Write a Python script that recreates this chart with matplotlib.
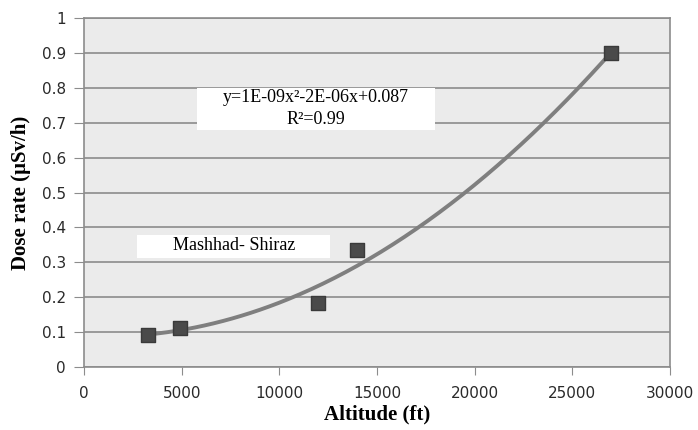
import matplotlib
matplotlib.use("Agg")
import matplotlib.pyplot as plt
from matplotlib.patches import Rectangle
import numpy as np

# valeurs
altitude = [3300, 4900, 12000, 14000, 27000]
dose = [0.093, 0.113, 0.183, 0.335, 0.90]
x_ticks = [0, 5000, 10000, 15000, 20000, 25000, 30000]
y_ticks = [0, 0.1, 0.2, 0.3, 0.4, 0.5, 0.6, 0.7, 0.8, 0.9, 1]

fig = plt.figure(figsize=(6.98, 4.30), dpi=100)
ax = fig.add_axes([0.1203, 0.1465, 0.8396, 0.8116])
ax.set_facecolor("#ebebeb")

# courbe de tendance polynomiale
coef = np.polyfit(altitude, dose, 2)
xs = np.linspace(min(altitude), max(altitude), 200)
ax.plot(xs, np.polyval(coef, xs), color="#7f7f7f", lw=2.8, zorder=3)
ax.scatter(altitude, dose, marker="s", s=110, color="#4a4a4a",
           edgecolors="#3a3a3a", zorder=4)

ax.set_xlim(0, 30000)
ax.set_ylim(0, 1)
ax.set_xticks(x_ticks)
ax.set_yticks(y_ticks)
ax.set_yticklabels([f"{v:g}" for v in y_ticks])
ax.grid(axis="y", color="#8c8c8c", lw=1.2)
ax.set_axisbelow(True)
for s in ax.spines.values():
    s.set_color("#8c8c8c")
    s.set_linewidth(1.2)
ax.tick_params(axis="y", length=7, color="#8c8c8c", labelsize=11, pad=6)
ax.tick_params(axis="x", length=6, color="#8c8c8c", labelsize=11, pad=8)
for lab in ax.get_xticklabels() + ax.get_yticklabels():
    lab.set_family("DejaVu Sans")
    lab.set_color("#2a2a2a")

ax.set_xlabel("Altitude (ft)", family="Liberation Serif", weight="bold",
              fontsize=15, labelpad=2)
ax.set_ylabel("Dose rate (µSv/h)", family="Liberation Serif", weight="bold",
              fontsize=15, labelpad=8)

# encadrés blancs
ax.add_patch(Rectangle((0.193, 0.679), 0.406, 0.120, transform=ax.transAxes,
                       facecolor="white", edgecolor="none", zorder=5))
ax.text(0.396, 0.771, "y=1E-09x²-2E-06x+0.087", transform=ax.transAxes,
        ha="center", va="center", family="Liberation Serif", fontsize=13, zorder=6)
ax.text(0.396, 0.708, "R²=0.99", transform=ax.transAxes,
        ha="center", va="center", family="Liberation Serif", fontsize=13, zorder=6)

ax.add_patch(Rectangle((0.090, 0.312), 0.330, 0.066, transform=ax.transAxes,
                       facecolor="white", edgecolor="none", zorder=5))
ax.text(0.256, 0.347, "Mashhad- Shiraz", transform=ax.transAxes,
        ha="center", va="center", family="Liberation Serif", fontsize=13, zorder=6)

fig.savefig("out.png", dpi=100)
